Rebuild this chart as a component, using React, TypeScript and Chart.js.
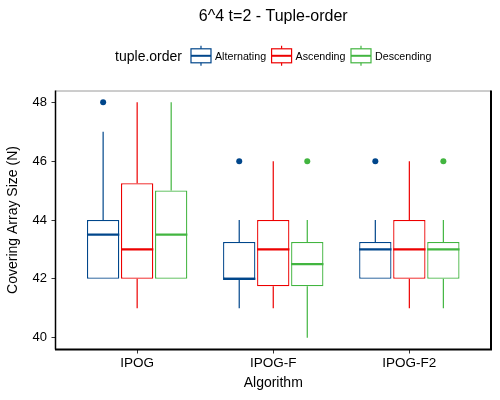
import { useEffect, useRef } from 'react';
import { Chart, registerables } from 'chart.js';

Chart.register(...registerables);

const categories = ['IPOG', 'IPOG-F', 'IPOG-F2'];
const categoryPositions = [1, 2, 3];
const seriesNames = ['Alternating', 'Ascending', 'Descending'];
const seriesColors = ['#00468B', '#ED0000', '#42B540'];

// five-number summary per algorithm: [min, q1, median, q3, max]
const alternating = [
  [42, 42, 43.5, 44, 47],
  [41, 42, 42, 43.25, 44],
  [42, 42, 43, 43.25, 44],
];
const ascending = [
  [41, 42, 43, 45.25, 48],
  [41, 41.75, 43, 44, 46],
  [41, 42, 43, 44, 46],
];
const descending = [
  [42, 42, 43.5, 45, 48],
  [40, 41.75, 42.5, 43.25, 44],
  [41, 42, 43, 43.25, 44],
];
const alternatingOutliers = [[48], [46], [46]];
const ascendingOutliers: number[][] = [[], [], []];
const descendingOutliers = [[], [46], [46]];

const yTicks = [40, 42, 44, 46, 48];

const summaries = [alternating, ascending, descending];
const outliers = [alternatingOutliers, ascendingOutliers, descendingOutliers];

const FONT = "'Liberation Sans', Arial, sans-serif";
const chartTitle = '6^4 t=2 - Tuple-order';
const legendTitle = 'tuple.order';

const drawGlyph = (ctx: CanvasRenderingContext2D, x: number, cy: number, color: string) => {
  const w = 20;
  ctx.save();
  ctx.strokeStyle = color;
  ctx.lineWidth = 1.2;
  ctx.beginPath();
  ctx.moveTo(x + w / 2, cy - 10);
  ctx.lineTo(x + w / 2, cy - 7);
  ctx.moveTo(x + w / 2, cy + 7);
  ctx.lineTo(x + w / 2, cy + 10);
  ctx.stroke();
  ctx.strokeRect(x, cy - 7, w, 14);
  ctx.lineWidth = 2;
  ctx.beginPath();
  ctx.moveTo(x, cy);
  ctx.lineTo(x + w, cy);
  ctx.stroke();
  ctx.restore();
};

const boxplotPlugin = {
  id: 'boxplotExtras',
  afterDatasetsDraw(chart: Chart) {
    const { ctx } = chart;
    const y = chart.scales.y;
    ctx.save();
    summaries.forEach((series, i) => {
      const meta = chart.getDatasetMeta(i);
      const color = seriesColors[i];
      series.forEach((s, j) => {
        const bar: any = meta.data[j];
        if (!bar) return;
        const cx = bar.x;
        const half = bar.width / 2;
        const [mn, q1, med, q3, mx] = s;
        ctx.strokeStyle = color;
        ctx.lineWidth = 1.2;
        ctx.beginPath();
        ctx.moveTo(cx, y.getPixelForValue(q3));
        ctx.lineTo(cx, y.getPixelForValue(mx));
        ctx.moveTo(cx, y.getPixelForValue(q1));
        ctx.lineTo(cx, y.getPixelForValue(mn));
        ctx.stroke();
        ctx.lineWidth = 2.3;
        ctx.beginPath();
        ctx.moveTo(cx - half, y.getPixelForValue(med));
        ctx.lineTo(cx + half, y.getPixelForValue(med));
        ctx.stroke();
        ctx.fillStyle = color;
        outliers[i][j].forEach((v) => {
          ctx.beginPath();
          ctx.arc(cx, y.getPixelForValue(v), 3, 0, Math.PI * 2);
          ctx.fill();
        });
      });
    });
    ctx.restore();
  },
  afterDraw(chart: Chart) {
    const { ctx, chartArea } = chart;
    const { left, right, top, bottom } = chartArea;
    const centerX = (left + right) / 2;
    ctx.save();

    // panel frame
    ctx.strokeStyle = '#9a9a9a';
    ctx.lineWidth = 1;
    ctx.beginPath();
    ctx.moveTo(left, top + 0.5);
    ctx.lineTo(right, top + 0.5);
    ctx.stroke();
    ctx.strokeStyle = '#000';
    ctx.lineWidth = 2;
    ctx.beginPath();
    ctx.moveTo(right, top);
    ctx.lineTo(right, bottom);
    ctx.moveTo(left - 0.5, bottom);
    ctx.lineTo(right + 1, bottom);
    ctx.stroke();
    ctx.lineWidth = 1.5;
    ctx.beginPath();
    ctx.moveTo(left, top);
    ctx.lineTo(left, bottom);
    ctx.stroke();

    // chart title
    ctx.fillStyle = '#000';
    ctx.textAlign = 'center';
    ctx.textBaseline = 'alphabetic';
    ctx.font = `16px ${FONT}`;
    ctx.fillText(chartTitle, centerX, 21.3);

    // legend
    ctx.textAlign = 'left';
    ctx.font = `14px ${FONT}`;
    const titleW = ctx.measureText(legendTitle).width;
    ctx.font = `10.7px ${FONT}`;
    const labelWs = seriesNames.map((n) => ctx.measureText(n).width);
    const glyphW = 20;
    const total =
      titleW + 9 + labelWs.reduce((a, w) => a + glyphW + 4 + w, 0) + 5.5 * (seriesNames.length - 1);
    let x = centerX - total / 2;
    ctx.font = `14px ${FONT}`;
    ctx.fillText(legendTitle, x, 60.7);
    x += titleW + 9;
    seriesNames.forEach((name, i) => {
      drawGlyph(ctx, x, 55.8, seriesColors[i]);
      x += glyphW + 4;
      ctx.font = `10.7px ${FONT}`;
      ctx.fillStyle = '#000';
      ctx.fillText(name, x, 59.8);
      x += labelWs[i] + 5.5;
    });
    ctx.restore();
  },
};

const App: React.FC = () => {
  const canvasRef = useRef<HTMLCanvasElement | null>(null);
  const chartInstance = useRef<Chart | null>(null);

  useEffect(() => {
    document.body.style.margin = '0';
    if (!canvasRef.current) return;
    const ctx = canvasRef.current.getContext('2d');
    if (!ctx) return;

    if (chartInstance.current) {
      chartInstance.current.destroy();
    }

    chartInstance.current = new Chart(ctx, {
      type: 'bar',
      data: {
        datasets: seriesNames.map((name, i) => ({
          label: name,
          data: summaries[i].map((s, j) => ({ x: categoryPositions[j], y: [s[1], s[3]] })),
          backgroundColor: '#ffffff',
          borderColor: seriesColors[i],
          borderWidth: 1.3,
          borderSkipped: false,
          categoryPercentage: 0.75,
          barPercentage: 0.95,
        })),
      } as any,
      options: {
        animation: false,
        responsive: true,
        maintainAspectRatio: false,
        layout: { padding: { left: 0, right: 9, top: 90.5, bottom: 0 } },
        plugins: {
          legend: { display: false },
          tooltip: { enabled: false },
          title: { display: false },
        },
        scales: {
          x: {
            type: 'linear',
            min: 0.4,
            max: 3.6,
            offset: false,
            afterBuildTicks: (scale: any) => {
              scale.ticks = categoryPositions.map((v) => ({ value: v }));
            },
            afterFit: (scale: any) => {
              scale.height = 50.5;
            },
            grid: {
              offset: false,
              drawOnChartArea: false,
              drawTicks: true,
              tickLength: 4,
              color: '#333',
              lineWidth: 1,
            },
            border: { display: false },
            ticks: {
              padding: 1.5,
              color: '#000',
              font: { family: FONT, size: 13.5 },
              callback: (v: any) => categories[categoryPositions.indexOf(Number(v))] ?? '',
            },
            title: {
              display: true,
              text: 'Algorithm',
              color: '#000',
              font: { family: FONT, size: 14 },
              padding: { top: 0, bottom: 8 },
            },
          },
          y: {
            type: 'linear',
            min: 39.6,
            max: 48.4,
            beginAtZero: false,
            afterBuildTicks: (scale: any) => {
              scale.ticks = yTicks.map((v) => ({ value: v }));
            },
            afterFit: (scale: any) => {
              scale.width = 55.5;
            },
            grid: {
              drawOnChartArea: false,
              drawTicks: true,
              tickLength: 4,
              color: '#333',
              lineWidth: 1,
            },
            border: { display: false },
            ticks: {
              padding: 4.5,
              color: '#000',
              font: { family: FONT, size: 13 },
            },
            title: {
              display: true,
              text: 'Covering Array Size (N)',
              color: '#000',
              font: { family: FONT, size: 14 },
              padding: { top: 5, bottom: 0 },
            },
          },
        },
      },
      plugins: [boxplotPlugin],
    });

    return () => {
      if (chartInstance.current) {
        chartInstance.current.destroy();
        chartInstance.current = null;
      }
    };
  }, []);

  return (
    <div style={{ position: 'relative', width: 500, height: 400 }}>
      <canvas ref={canvasRef}></canvas>
    </div>
  );
};

export default App;
